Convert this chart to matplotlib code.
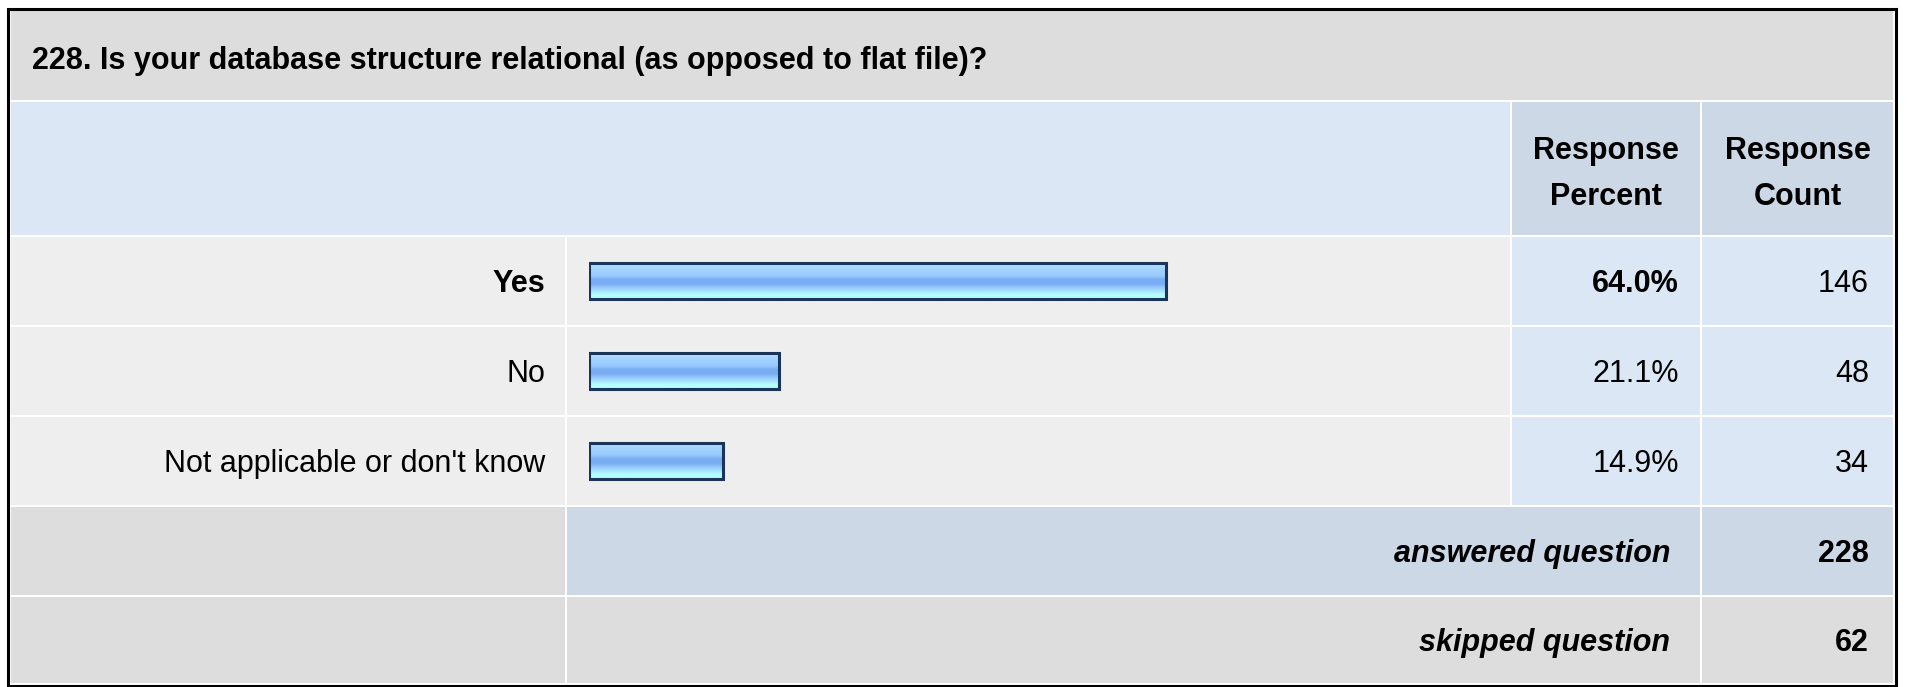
import numpy as np
import matplotlib
matplotlib.use('Agg')
import matplotlib.pyplot as plt
from matplotlib.patches import Rectangle
from matplotlib.colors import LinearSegmentedColormap

# Survey data
question = "228. Is your database structure relational (as opposed to flat file)?"
categories = ["Yes", "No", "Not applicable or don't know"]
percents = [64.0, 21.1, 14.9]
counts = [146, 48, 34]
answered = 228
skipped = 62

plt.rcParams['font.family'] = ['Liberation Sans', 'DejaVu Sans']
FS = 22

W, H = 1907, 687
fig = plt.figure(figsize=(W / 100, H / 100), dpi=100)
fig.patch.set_facecolor('white')

# full-figure axes in pixel units for the table layout
ax = fig.add_axes([0, 0, 1, 1])
ax.set_xlim(0, W)
ax.set_ylim(H, 0)
ax.axis('off')

title_bg = '#dddddd'
light_blue = '#dce7f5'
head_blue = '#ccd8e6'
row_gray = '#eeeeee'

def cell(x0, x1, y0, y1, color):
    ax.add_patch(Rectangle((x0, y0), x1 - x0, y1 - y0, facecolor=color, edgecolor='none'))

# column edges
c0 = (11, 565)
c1 = (567, 1510)
c2 = (1512, 1700)
c3 = (1702, 1893)

# title row
cell(11, 1893, 11, 100, title_bg)
ax.text(32, 69, question, fontsize=FS, fontweight='bold', ha='left', va='baseline')

# header row
cell(11, 1510, 102, 235, light_blue)
cell(c2[0], c2[1], 102, 235, head_blue)
cell(c3[0], c3[1], 102, 235, head_blue)
for cx, lines in [((c2[0] + c2[1]) / 2, ["Response", "Percent"]),
                  ((c3[0] + c3[1]) / 2, ["Response", "Count"])]:
    ax.text(cx, 159, lines[0], fontsize=FS, fontweight='bold', ha='center', va='baseline')
    ax.text(cx, 205, lines[1], fontsize=FS, fontweight='bold', ha='center', va='baseline')

# answer rows
row_top = 237
row_h = 90
top_pct = max(percents)
for i, (cat, p, n) in enumerate(zip(categories, percents, counts)):
    y0 = row_top + i * row_h
    y1 = y0 + row_h - 2
    cell(c0[0], c0[1], y0, y1, row_gray)
    cell(c1[0], c1[1], y0, y1, row_gray)
    cell(c2[0], c2[1], y0, y1, light_blue)
    cell(c3[0], c3[1], y0, y1, light_blue)
    base = (y0 + y1) / 2 + 11
    w = 'bold' if p == top_pct else 'normal'
    ax.text(545, base, cat, fontsize=FS, fontweight=w, ha='right', va='baseline')
    ax.text(1679, base, f"{p:.1f}%", fontsize=FS, fontweight=w, ha='right', va='baseline')
    ax.text(1869, base, str(n), fontsize=FS, ha='right', va='baseline')

# answered / skipped rows
y0 = row_top + 3 * row_h
cell(c0[0], c0[1], y0, y0 + 88, title_bg)
cell(c1[0], c2[1], y0, y0 + 88, head_blue)
cell(c3[0], c3[1], y0, y0 + 88, head_blue)
ax.text(1670, y0 + 44 + 11, "answered question", fontsize=FS, fontweight='bold',
        style='italic', ha='right', va='baseline')
ax.text(1869, y0 + 44 + 11, str(answered), fontsize=FS, fontweight='bold', ha='right', va='baseline')

y0 = y0 + row_h
cell(c0[0], c0[1], y0, 683, title_bg)
cell(c1[0], c2[1], y0, 683, title_bg)
cell(c3[0], c3[1], y0, 683, title_bg)
ax.text(1670, y0 + 43 + 11, "skipped question", fontsize=FS, fontweight='bold',
        style='italic', ha='right', va='baseline')
ax.text(1869, y0 + 43 + 11, str(skipped), fontsize=FS, fontweight='bold', ha='right', va='baseline')

# outer frame
ax.add_patch(Rectangle((7.5, 8.5), 1895.5 - 7.5, 685.5 - 8.5, facecolor='none',
                       edgecolor='black', linewidth=2.2))

# bars with a glossy vertical gradient
bar_left, bar_w = 589, 902
bax = fig.add_axes([bar_left / W, 1 - (row_top + 3 * row_h - 1) / H, bar_w / W, (3 * row_h) / H])
bax.axis('off')
gloss = LinearSegmentedColormap.from_list('gloss', [
    (0.0, '#b8e0ff'), (0.15, '#a4d4ff'), (0.35, '#98cafd'), (0.45, '#7aaef4'),
    (0.58, '#78acf3'), (0.68, '#96c8fc'), (0.8, '#a8e6ff'), (0.88, '#b4ffff'), (1.0, '#b4ffff')])
grad = np.linspace(0, 1, 64).reshape(-1, 1)
bh = 0.4
for i, p in enumerate(percents):
    bax.imshow(grad, cmap=gloss, aspect='auto', interpolation='bilinear',
               extent=[0, p, i + bh / 2, i - bh / 2], zorder=1)
bax.barh(range(len(percents)), percents, height=bh, fill=False,
         edgecolor='#1b355a', linewidth=2.2, zorder=2)
bax.set_xlim(0, 100)
bax.set_ylim(len(percents) - 0.5, -0.5)

fig.savefig('out.png', dpi=100, facecolor='white')
